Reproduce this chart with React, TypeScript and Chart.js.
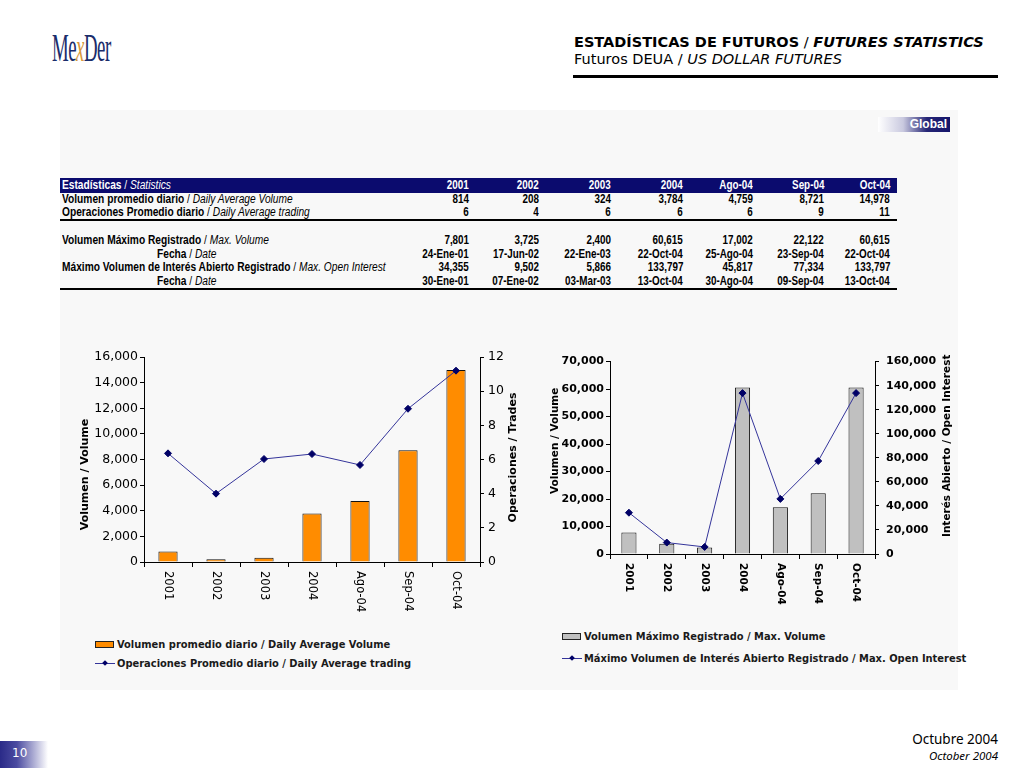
import React, { useEffect, useRef } from 'react';
import { Chart, registerables } from 'chart.js';

Chart.register(...registerables);

// ---------------- DATA ----------------
const periods = ['2001', '2002', '2003', '2004', 'Ago-04', 'Sep-04', 'Oct-04'];
const dailyAvgVolume = [814, 208, 324, 3784, 4759, 8721, 14978];
const dailyAvgTrades = [6.36, 4.0, 6.03, 6.32, 5.68, 8.97, 11.2];
const maxVolume = [7801, 3725, 2400, 60615, 17002, 22122, 60615];
const maxVolumeDates = ['24-Ene-01', '17-Jun-02', '22-Ene-03', '22-Oct-04', '25-Ago-04', '23-Sep-04', '22-Oct-04'];
const maxOpenInterest = [34355, 9502, 5866, 133797, 45817, 77334, 133797];
const maxOpenInterestDates = ['30-Ene-01', '07-Ene-02', '03-Mar-03', '13-Oct-04', '30-Ago-04', '09-Sep-04', '13-Oct-04'];

const fmt = (v: number) => Number(v).toLocaleString('en-US');

// ---------------- STYLE ----------------
const NAVY = '#0b0b6e';
const colWidths = [71, 70, 72, 72, 70, 71, 66];
const tableFont = '"Liberation Sans", Arial, sans-serif';
const chartFont = '"DejaVu Sans", Verdana, sans-serif';
const legendFont = '"DejaVu Sans Condensed", "Liberation Sans", sans-serif';

// custom text plugin: clockwise x labels and rotated axis titles
const slideTextPlugin = {
  id: 'slideText',
  afterDraw(chart: any, _args: any, opts: any) {
    const ctx = chart.ctx;
    const xs = chart.scales.x;
    ctx.save();
    ctx.fillStyle = '#000';
    ctx.font = opts.xFont;
    ctx.textAlign = 'left';
    ctx.textBaseline = 'middle';
    (chart.data.labels as string[]).forEach((lab, i) => {
      const px = xs.getPixelForValue(i);
      ctx.save();
      ctx.translate(px, chart.chartArea.bottom + opts.xGap);
      ctx.rotate(Math.PI / 2);
      ctx.fillText(String(lab), 0, 0);
      ctx.restore();
    });
    ctx.font = opts.titleFont;
    ctx.textAlign = 'center';
    for (const t of opts.titles) {
      const sc = chart.scales[t.scale];
      const tx = sc.left + t.offset;
      const ty = (chart.chartArea.top + chart.chartArea.bottom) / 2 + t.dy;
      ctx.save();
      ctx.translate(tx, ty);
      ctx.rotate(-Math.PI / 2);
      ctx.fillText(t.text, 0, 0);
      ctx.restore();
    }
    ctx.restore();
  },
};

type ChartCfg = {
  barData: number[];
  lineData: number[];
  barColor: string;
  yMax: number;
  yStep: number;
  y1Max: number;
  y1Step: number;
  leftWidth: number;
  rightWidth: number;
  tickFont: any;
  leftPad: number;
  rightPad: number;
  xFont: string;
  titleFont: string;
  titles: any[];
  barLabel: string;
  lineLabel: string;
};

function ComboChart({ cfg, width, height, style }: { cfg: ChartCfg; width: number; height: number; style: any }) {
  const ref = useRef<HTMLCanvasElement | null>(null);
  useEffect(() => {
    if (!ref.current) return;
    const gridCommon = { drawOnChartArea: false, drawTicks: true, color: '#000', lineWidth: 1 };
    const chart = new Chart(ref.current, {
      type: 'bar',
      data: {
        labels: periods,
        datasets: [
          {
            type: 'line',
            label: cfg.lineLabel,
            data: cfg.lineData,
            yAxisID: 'y1',
            borderColor: '#34349a',
            borderWidth: 1,
            pointStyle: 'rectRot',
            pointRadius: 3.5,
            pointBackgroundColor: '#000066',
            pointBorderColor: '#000066',
            tension: 0,
            order: 0,
          } as any,
          {
            type: 'bar',
            label: cfg.barLabel,
            data: cfg.barData,
            yAxisID: 'y',
            backgroundColor: cfg.barColor,
            borderColor: '#111',
            borderWidth: 1,
            barPercentage: 0.4,
            categoryPercentage: 1,
            order: 1,
          } as any,
        ],
      },
      options: {
        responsive: false,
        animation: false,
        events: [],
        layout: { padding: { top: 12, left: 0, right: 0, bottom: 0 } },
        plugins: {
          legend: { display: false },
          tooltip: { enabled: false },
          slideText: { xFont: cfg.xFont, xGap: 9, titleFont: cfg.titleFont, titles: cfg.titles },
        } as any,
        scales: {
          x: {
            offset: true,
            grid: { ...gridCommon, offset: true, tickLength: 5 },
            border: { color: '#000', width: 1 },
            ticks: { color: 'rgba(0,0,0,0)', minRotation: 90, maxRotation: 90, font: { family: chartFont, size: 11 } },
            afterFit: (s: any) => { s.height = 55; },
          },
          y: {
            position: 'left',
            min: 0,
            max: cfg.yMax,
            grid: { ...gridCommon, tickLength: 4 },
            border: { color: '#000', width: 1 },
            ticks: { stepSize: cfg.yStep, color: '#000', font: cfg.tickFont, padding: cfg.leftPad, callback: (v: any) => fmt(v) },
            afterFit: (s: any) => { s.width = cfg.leftWidth; },
          },
          y1: {
            position: 'right',
            min: 0,
            max: cfg.y1Max,
            grid: { ...gridCommon, tickLength: 4 },
            border: { color: '#000', width: 1 },
            ticks: { stepSize: cfg.y1Step, color: '#000', font: cfg.tickFont, padding: cfg.rightPad, callback: (v: any) => fmt(v) },
            afterFit: (s: any) => { s.width = cfg.rightWidth; },
          },
        } as any,
      },
      plugins: [slideTextPlugin as any],
    });
    return () => chart.destroy();
  }, []);
  return <canvas ref={ref} width={width} height={height} style={{ position: 'absolute', width, height, ...style }} />;
}

const leftCfg: ChartCfg = {
  barData: dailyAvgVolume,
  lineData: dailyAvgTrades,
  barColor: '#ff8c00',
  yMax: 16000,
  yStep: 2000,
  y1Max: 12,
  y1Step: 2,
  leftWidth: 74,
  rightWidth: 45,
  tickFont: { family: chartFont, size: 12.5 },
  leftPad: 2,
  rightPad: 4,
  xFont: `11.5px ${chartFont}`,
  titleFont: `bold 11px ${chartFont}`,
  titles: [
    { scale: 'y', offset: 15, dy: 15, text: 'Volumen / Volume' },
    { scale: 'y1', offset: 33, dy: -2, text: 'Operaciones / Trades' },
  ],
  barLabel: 'Volumen promedio diario / Daily Average Volume',
  lineLabel: 'Operaciones Promedio diario / Daily Average trading',
};

const rightCfg: ChartCfg = {
  barData: maxVolume,
  lineData: maxOpenInterest,
  barColor: '#c0c0c0',
  yMax: 70000,
  yStep: 10000,
  y1Max: 160000,
  y1Step: 20000,
  leftWidth: 70,
  rightWidth: 80,
  tickFont: { family: chartFont, size: 11, weight: 'bold' },
  leftPad: 2,
  rightPad: 7,
  xFont: `bold 10.5px ${chartFont}`,
  titleFont: `bold 10.5px ${chartFont}`,
  titles: [
    { scale: 'y', offset: 15, dy: -17, text: 'Volumen / Volume' },
    { scale: 'y1', offset: 72, dy: -12, text: 'Interés Abierto / Open Interest' },
  ],
  barLabel: 'Volumen Máximo Registrado / Max. Volume',
  lineLabel: 'Máximo Volumen de Interés Abierto Registrado / Max. Open Interest',
};

// ---------------- TABLE ----------------
const tableRows = [
  { top: 193, h: 13, label: ['Volumen promedio diario', 'Daily Average Volume'], values: dailyAvgVolume.map(fmt), indent: 2 },
  { top: 206, h: 13, label: ['Operaciones Promedio diario', 'Daily Average trading'], values: dailyAvgTrades.map((v) => String(Math.round(v))), indent: 2 },
  { top: 234, h: 13.5, label: ['Volumen Máximo Registrado', 'Max. Volume'], values: maxVolume.map(fmt), indent: 2 },
  { top: 247.5, h: 13.5, label: ['Fecha', 'Date'], values: maxVolumeDates, indent: 97 },
  { top: 261, h: 13.5, label: ['Máximo Volumen de Interés Abierto Registrado', 'Max. Open Interest'], values: maxOpenInterest.map(fmt), indent: 2 },
  { top: 274.5, h: 13.5, label: ['Fecha', 'Date'], values: maxOpenInterestDates, indent: 97 },
];

const narrowLeft = { display: 'inline-block', transform: 'scaleX(0.85)', transformOrigin: 'left center' };
const narrowRight = { display: 'inline-block', transform: 'scaleX(0.82)', transformOrigin: 'right center' };

function TableRow({ top, h, label, values, indent, bg, color }: any) {
  return (
    <div style={{ position: 'absolute', left: 60, top, width: 837, height: h, display: 'flex', alignItems: 'center', background: bg || 'transparent', color: color || '#000', fontFamily: tableFont, fontSize: 12, lineHeight: `${h}px`, whiteSpace: 'nowrap' }}>
      <div style={{ width: 338 - indent, paddingLeft: indent }}>
        <span style={narrowLeft as any}>
          <b>{label[0]}</b>
          <span> / </span>
          <i>{label[1]}</i>
        </span>
      </div>
      {values.map((v: string, i: number) => (
        <div key={i} style={{ width: colWidths[i], textAlign: 'right', fontWeight: 'bold' }}>
          <span style={narrowRight as any}>{v}</span>
        </div>
      ))}
    </div>
  );
}

function LegendItem({ left, top, kind, color, text }: any) {
  return (
    <div style={{ position: 'absolute', left, top, height: 14, display: 'flex', alignItems: 'center', whiteSpace: 'nowrap' }}>
      {kind === 'bar' ? (
        <div style={{ width: 19, height: 7, background: color, border: '1px solid #222', boxSizing: 'border-box', marginRight: 3 }} />
      ) : (
        <div style={{ position: 'relative', width: 20, height: 14, marginRight: 2 }}>
          <div style={{ position: 'absolute', left: 0, top: 7, width: 20, height: 1, background: '#34349a' }} />
          <div style={{ position: 'absolute', left: 8, top: 5, width: 4, height: 4, background: '#000066', transform: 'rotate(45deg)' }} />
        </div>
      )}
      <span style={{ fontFamily: legendFont, fontWeight: 'bold', fontSize: 11, color: '#1a1a1a' }}>{text}</span>
    </div>
  );
}

export default function App() {
  return (
    <div style={{ position: 'absolute', left: 0, top: 0, width: 1024, height: 768, background: '#fff', overflow: 'hidden' }}>
      {/* Logo */}
      <div style={{ position: 'absolute', left: 52, top: 24, fontFamily: '"Liberation Serif", serif', fontSize: 40, color: '#1b2d6b', transform: 'scaleX(0.47)', transformOrigin: 'left top', whiteSpace: 'nowrap', letterSpacing: -1 }}>
        Me<span style={{ color: '#d8983a', fontStyle: 'italic' }}>x</span>Der
      </div>

      {/* Header */}
      <div style={{ position: 'absolute', left: 574, top: 34, fontFamily: chartFont, fontSize: 14.5, lineHeight: '17px', color: '#000', whiteSpace: 'nowrap' }}>
        <b>ESTADÍSTICAS DE FUTUROS</b> / <b><i>FUTURES STATISTICS</i></b>
      </div>
      <div style={{ position: 'absolute', left: 574, top: 51, fontFamily: chartFont, fontSize: 14.5, lineHeight: '17px', color: '#000', whiteSpace: 'nowrap' }}>
        Futuros DEUA / <i>US DOLLAR FUTURES</i>
      </div>
      <div style={{ position: 'absolute', left: 573, top: 75, width: 425, height: 3, background: '#000' }} />

      {/* Panel */}
      <div style={{ position: 'absolute', left: 60, top: 110, width: 898, height: 580, background: '#f8f8f8' }} />

      {/* Global tag */}
      <div style={{ position: 'absolute', left: 878, top: 117, width: 72, height: 15, background: 'linear-gradient(to right, #ffffff 0%, #c9c9df 35%, #262676 68%, #14146a 100%)', color: '#fff', fontFamily: '"Liberation Sans", Arial, sans-serif', fontWeight: 'bold', fontSize: 12, lineHeight: '15px', textAlign: 'right', paddingRight: 3, boxSizing: 'border-box' }}>
        Global
      </div>

      {/* Table */}
      <div style={{ position: 'absolute', left: 60, top: 178, width: 837, height: 15, background: NAVY, color: '#fff', display: 'flex', alignItems: 'center', fontFamily: tableFont, fontSize: 12, lineHeight: '15px', whiteSpace: 'nowrap' }}>
        <div style={{ width: 336, paddingLeft: 2 }}>
          <span style={narrowLeft as any}>
            <b>Estadísticas</b> / <i>Statistics</i>
          </span>
        </div>
        {periods.map((p, i) => (
          <div key={p} style={{ width: colWidths[i], textAlign: 'right', fontWeight: 'bold' }}>
            <span style={narrowRight as any}>{p}</span>
          </div>
        ))}
      </div>
      {tableRows.map((r, i) => (
        <TableRow key={i} {...r} />
      ))}
      <div style={{ position: 'absolute', left: 60, top: 219, width: 837, height: 2, background: '#000' }} />
      <div style={{ position: 'absolute', left: 60, top: 288, width: 837, height: 2, background: '#000' }} />

      {/* Charts */}
      <ComboChart cfg={leftCfg} width={455} height={272} style={{ left: 70, top: 345 }} />
      <ComboChart cfg={rightCfg} width={415} height={261} style={{ left: 540, top: 348 }} />

      {/* Legends */}
      <LegendItem left={95} top={637} kind="bar" color="#ff8c00" text={leftCfg.barLabel} />
      <LegendItem left={95} top={656} kind="line" text={leftCfg.lineLabel} />
      <LegendItem left={562} top={629} kind="bar" color="#c0c0c0" text={rightCfg.barLabel} />
      <LegendItem left={562} top={651} kind="line" text={rightCfg.lineLabel} />

      {/* Footer */}
      <div style={{ position: 'absolute', right: 26, top: 731, fontFamily: '"Noto Sans", sans-serif', fontSize: 13.5, lineHeight: '17px', color: '#000', textAlign: 'right', whiteSpace: 'nowrap' }}>
        Octubre 2004
      </div>
      <div style={{ position: 'absolute', right: 26, top: 748, fontFamily: '"Noto Sans", sans-serif', fontSize: 11.5, lineHeight: '15px', fontStyle: 'italic', color: '#000', textAlign: 'right', whiteSpace: 'nowrap' }}>
        October 2004
      </div>
      <div style={{ position: 'absolute', left: 0, top: 741, width: 48, height: 27, background: 'linear-gradient(to right, #2a2a88 0%, #4b4ba0 35%, #ffffff 100%)', color: '#fff', fontFamily: '"DejaVu Sans", sans-serif', fontSize: 12, lineHeight: '25px', paddingLeft: 12, boxSizing: 'border-box' }}>
        10
      </div>
    </div>
  );
}
